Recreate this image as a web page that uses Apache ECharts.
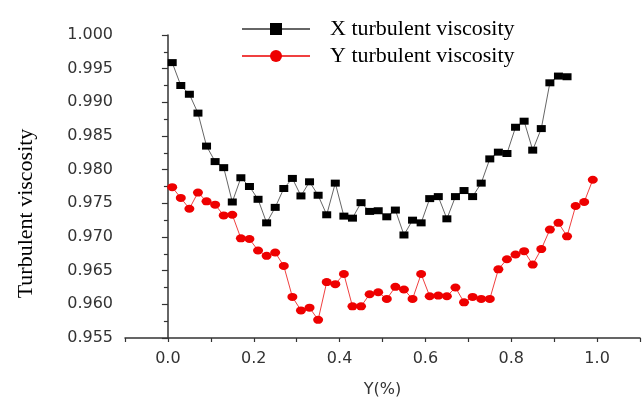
<!DOCTYPE html>
<html>
<head>
<meta charset="utf-8">
<script src="https://cdn.jsdelivr.net/npm/echarts@6/dist/echarts.min.js"></script>
<style>
html,body{margin:0;padding:0;background:#fff;}
#chart{width:643px;height:403px;}
</style>
</head>
<body>
<div id="chart"></div>
<script>
// Y (%) positions
const xPositionsX = [0.01,0.03,0.05,0.07,0.09,0.11,0.13,0.15,0.17,0.19,0.21,0.23,0.25,0.27,0.29,0.31,0.33,0.35,0.37,0.39,0.41,0.43,0.45,0.47,0.49,0.51,0.53,0.55,0.57,0.59,0.61,0.63,0.65,0.67,0.69,0.71,0.73,0.75,0.77,0.79,0.81,0.83,0.85,0.87,0.89,0.91,0.93];
const xTurbulent = [0.9959,0.9925,0.9912,0.9884,0.9835,0.9812,0.9803,0.9752,0.9788,0.9775,0.9756,0.9721,0.9744,0.9772,0.9787,0.9761,0.9782,0.9762,0.9733,0.9780,0.9731,0.9728,0.9751,0.9738,0.9739,0.9730,0.9740,0.9703,0.9725,0.9721,0.9757,0.9760,0.9727,0.9760,0.9769,0.9760,0.9780,0.9816,0.9826,0.9824,0.9863,0.9872,0.9829,0.9861,0.9929,0.9939,0.9938];

const xPositionsY = [0.01,0.03,0.05,0.07,0.09,0.11,0.13,0.15,0.17,0.19,0.21,0.23,0.25,0.27,0.29,0.31,0.33,0.35,0.37,0.39,0.41,0.43,0.45,0.47,0.49,0.51,0.53,0.55,0.57,0.59,0.61,0.63,0.65,0.67,0.69,0.71,0.73,0.75,0.77,0.79,0.81,0.83,0.85,0.87,0.89,0.91,0.93,0.95,0.97,0.99];
const yTurbulent = [0.9774,0.9758,0.9742,0.9766,0.9753,0.9748,0.9732,0.9733,0.9698,0.9697,0.9680,0.9672,0.9677,0.9657,0.9611,0.9591,0.9595,0.9577,0.9633,0.9630,0.9645,0.9597,0.9597,0.9615,0.9618,0.9608,0.9626,0.9622,0.9608,0.9645,0.9612,0.9613,0.9612,0.9625,0.9603,0.9611,0.9608,0.9608,0.9652,0.9667,0.9674,0.9679,0.9659,0.9682,0.9711,0.9721,0.9701,0.9746,0.9752,0.9785];

const seriesNames = ['X turbulent viscosity','Y turbulent viscosity'];
const xAxisTitle = 'Y(%)';
const yAxisTitle = 'Turbulent viscosity';

const chart = echarts.init(document.getElementById('chart'), null, {renderer:'canvas'});
const sansFont = 'DejaVu Sans';
const serifFont = 'Liberation Serif';

chart.setOption({
  animation:false,
  backgroundColor:'#fff',
  grid:{left:125, right:-8, top:35, bottom:61, containLabel:false},
  legend:{
    orient:'vertical', left:236, top:13, itemWidth:68, itemHeight:15, itemGap:5,
    textStyle:{fontFamily:serifFont, fontSize:22, color:'#000', padding:[0,0,0,15]},
    data:seriesNames
  },
  xAxis:{
    type:'value', min:-0.1, max:1.1, interval:0.1,
    name:xAxisTitle, nameLocation:'middle', nameGap:44,
    nameTextStyle:{fontFamily:sansFont, fontSize:16, color:'#333'},
    axisLine:{lineStyle:{color:'#333', width:1.5}},
    axisTick:{length:4, lineStyle:{color:'#333', width:1.2}},
    splitLine:{show:false},
    axisLabel:{fontFamily:sansFont, fontSize:16, color:'#333', margin:13,
      formatter:function(v){const r=Math.round(v*10); return (r>=0 && r%2===0)?(r/10).toFixed(1):'';}}
  },
  yAxis:{
    type:'value', min:0.955, max:1.0, interval:0.005,
    name:yAxisTitle, nameLocation:'middle', nameRotate:90, nameGap:88,
    nameTextStyle:{fontFamily:serifFont, fontSize:22, color:'#000', padding:[0,54,0,0]},
    axisLine:{show:true, lineStyle:{color:'#333', width:1.5}},
    axisTick:{show:true, length:6, lineStyle:{color:'#333', width:1.2}},
    minorTick:{show:true, splitNumber:2, length:4, lineStyle:{color:'#333', width:1.2}},
    splitLine:{show:false},
    axisLabel:{fontFamily:sansFont, fontSize:16, color:'#333', margin:12,
      formatter:function(v){return v.toFixed(3);}}
  },
  series:[
    {
      name:seriesNames[0], type:'line',
      data:xPositionsX.map((x,i)=>[x,xTurbulent[i]]),
      symbol:'rect', symbolSize:[9,7],
      itemStyle:{color:'#000'},
      lineStyle:{color:'#666', width:1}
    },
    {
      name:seriesNames[1], type:'line',
      data:xPositionsY.map((x,i)=>[x,yTurbulent[i]]),
      symbol:'circle', symbolSize:[10,8],
      itemStyle:{color:'#ee0000'},
      lineStyle:{color:'#f04040', width:1}
    }
  ]
});
</script>
</body>
</html>
